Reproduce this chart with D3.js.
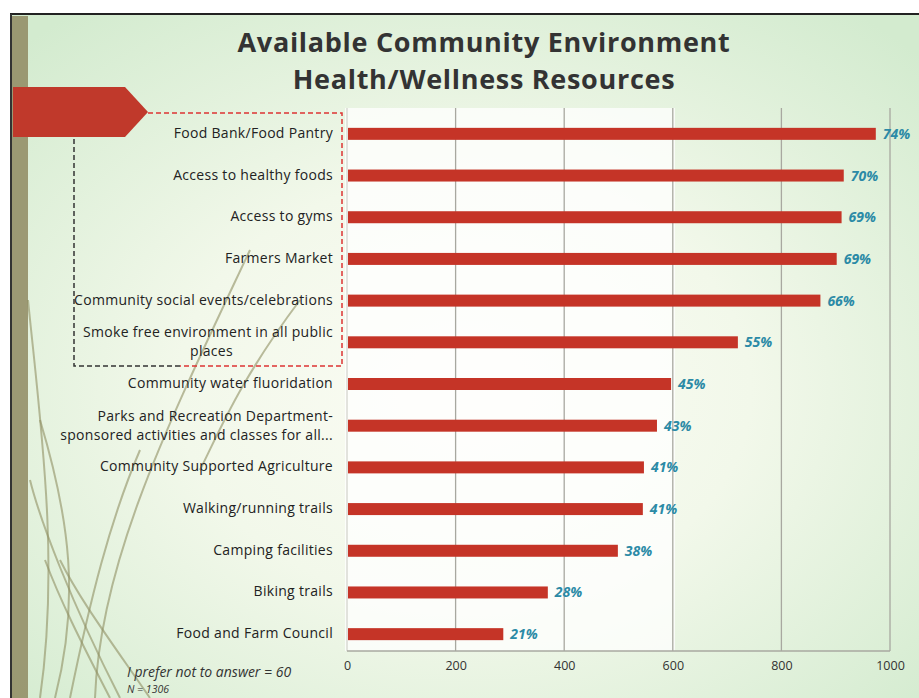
<!DOCTYPE html>
<html><head><meta charset="utf-8">
<script src="https://cdn.jsdelivr.net/npm/d3@7"></script>
<style>body{margin:0;background:#fff;}svg{display:block;}</style>
</head><body>
<script>
const categories = ["Food Bank/Food Pantry","Access to healthy foods","Access to gyms","Farmers Market","Community social events/celebrations","Smoke free environment in all public places","Community water fluoridation","Parks and Recreation Department-sponsored activities and classes for all...","Community Supported Agriculture","Walking/running trails","Camping facilities","Biking trails","Food and Farm Council"];
const labelLines = [["Food Bank/Food Pantry"],["Access to healthy foods"],["Access to gyms"],["Farmers Market"],["Community social events/celebrations"],["Smoke free environment in all public","places"],["Community water fluoridation"],["Parks and Recreation Department-","sponsored activities and classes for all..."],["Community Supported Agriculture"],["Walking/running trails"],["Camping facilities"],["Biking trails"],["Food and Farm Council"]];
const counts = [972, 913, 909, 900, 870, 718, 595, 569, 545, 543, 497, 368, 286];
const percents = ["74%","70%","69%","69%","66%","55%","45%","43%","41%","41%","38%","28%","21%"];
const xTicks = [0,200,400,600,800,1000];
const titleLines = ["Available Community Environment","Health/Wellness Resources"];
const footnotes = ["I prefer not to answer = 60","N = 1306"];

const W=919,H=698;
const svg=d3.select("body").append("svg").attr("width",W).attr("height",H);
const defs=svg.append("defs");
const rg=defs.append("radialGradient").attr("id","bg").attr("cx","0.5").attr("cy","0.55").attr("r","0.7");
rg.append("stop").attr("offset","0").attr("stop-color","#fbfcf4");
rg.append("stop").attr("offset","0.45").attr("stop-color","#f2f8ea");
rg.append("stop").attr("offset","1").attr("stop-color","#d3ebcf");

// slide
svg.append("rect").attr("x",10).attr("y",14).attr("width",W-10).attr("height",H-14).attr("fill","url(#bg)");
svg.append("rect").attr("x",12).attr("y",16).attr("width",16).attr("height",H-16).attr("fill","#8f8a62").attr("opacity",0.85);
svg.append("line").attr("x1",10).attr("x2",W).attr("y1",14).attr("y2",14).attr("stroke","#222").attr("stroke-width",2);
svg.append("line").attr("x1",11).attr("x2",11).attr("y1",14).attr("y2",H).attr("stroke","#333").attr("stroke-width",2);

// decorative grass curves
const curves=[
 "M40,698 C60,560 40,420 28,300",
 "M55,698 C80,600 70,520 40,420",
 "M120,698 C70,600 40,520 30,480",
 "M110,698 C80,640 60,600 45,560",
 "M95,698 C100,560 170,420 250,250",
 "M70,698 C90,600 110,520 140,450",
 "M150,698 C110,640 80,600 60,560",
 "M200,470 C220,430 240,380 300,300"
];
svg.append("g").selectAll("path").data(curves).join("path").attr("d",d=>d)
 .attr("fill","none").attr("stroke","#8f8f62").attr("stroke-width",2).attr("opacity",0.6);

const x=d3.scaleLinear().domain([0,1000]).range([347,890]);
const y=d3.scaleBand().domain(categories).range([113,655]).paddingInner(0.7).paddingOuter(0.35);
svg.append("rect").attr("x",345).attr("y",108).attr("width",330).attr("height",543).attr("fill","#ffffff").attr("opacity",0.75);

// grid
svg.append("g").selectAll("line").data(xTicks.slice(1)).join("line")
 .attr("x1",d=>x(d)).attr("x2",d=>x(d)).attr("y1",108).attr("y2",651)
 .attr("stroke","#a8a8a0").attr("stroke-width",1.3);
svg.append("line").attr("x1",347).attr("x2",347).attr("y1",108).attr("y2",651).attr("stroke","#c8c8c0");
svg.append("line").attr("x1",347).attr("x2",890).attr("y1",651).attr("y2",651).attr("stroke","#a8a8a0").attr("stroke-width",1.3);

// x axis labels
const ax=svg.append("g").attr("transform","translate(0,651)").call(d3.axisBottom(x).tickValues(xTicks).tickFormat(d3.format("d")).tickSize(0).tickPadding(10));
ax.select(".domain").remove();
ax.selectAll("text").attr("font-family","Open Sans").attr("font-size",12.5).attr("fill","#333");

// red arrow
svg.append("path").attr("d","M13,87 L125,87 L148,112 L125,137 L13,137 Z").attr("fill","#c0392b");
// dashed box
svg.append("path").attr("d","M148,113 L342,113 L342,366 L180,366").attr("fill","none").attr("stroke","#d33").attr("stroke-width",1.5).attr("stroke-dasharray","5,3");
svg.append("path").attr("d","M180,366 L74,366 L74,137").attr("fill","none").attr("stroke","#333").attr("stroke-width",1.5).attr("stroke-dasharray","5,3");

// bars
const bh=12;
svg.append("g").selectAll("rect").data(counts).join("rect")
 .attr("x",x(0)+1).attr("y",(d,i)=>y(categories[i])+y.bandwidth()/2-bh/2)
 .attr("width",d=>x(d)-x(0)).attr("height",bh).attr("fill","#c53427");

// value labels
svg.append("g").selectAll("text").data(counts).join("text")
 .attr("x",d=>x(d)+8).attr("y",(d,i)=>y(categories[i])+y.bandwidth()/2+5)
 .text((d,i)=>percents[i]).attr("font-family","Open Sans").attr("font-style","italic").attr("font-weight",700)
 .attr("font-size",14).attr("fill","#2b8aa6");

// category labels
const cl=svg.append("g").selectAll("text").data(labelLines).join("text")
 .attr("text-anchor","end").attr("font-family","Open Sans").attr("font-size",14).attr("letter-spacing",0.3).attr("fill","#222")
 .attr("transform",(d,i)=>`translate(333,${y(categories[i])+y.bandwidth()/2+(d.length>1?-5:4)})`);
cl.selectAll("tspan").data(d=>d).join("tspan").attr("x",(d,i)=> (i==1 && d==="places")? -100:0).attr("dy",(d,i)=>i?19:0).text(d=>d);

// title
svg.append("g").selectAll("text").data(titleLines).join("text")
 .attr("x",484).attr("y",(d,i)=>52+i*37).attr("text-anchor","middle")
 .attr("font-family","Open Sans").attr("font-weight",700).attr("font-size",27).attr("letter-spacing",0.7).attr("fill","#333").text(d=>d);

// footnotes
svg.append("g").selectAll("text").data(footnotes).join("text")
 .attr("x",127).attr("y",(d,i)=>i?693:677).attr("font-family","Open Sans").attr("font-style","italic")
 .attr("font-size",(d,i)=>i?10.5:14).attr("fill","#333").text(d=>d);
</script>
</body></html>
